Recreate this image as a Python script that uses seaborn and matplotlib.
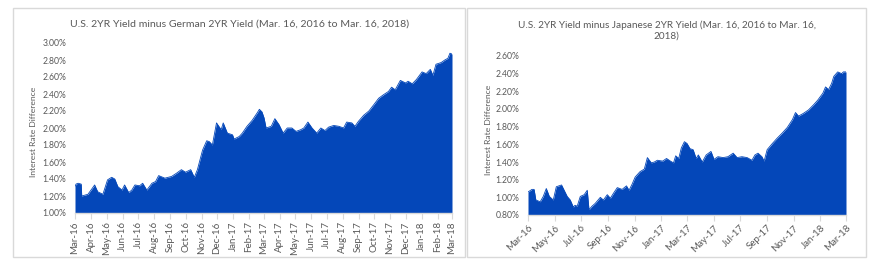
import matplotlib
matplotlib.use("Agg")
import matplotlib.pyplot as plt
from matplotlib.patches import Rectangle
from matplotlib.ticker import FuncFormatter, FixedLocator
import seaborn as sns
import pandas as pd

# ---- data: U.S. 2YR minus German 2YR (percent) ----
de_dates = ["2016-03-16", "2016-03-18", "2016-03-22", "2016-03-28", "2016-03-29", "2016-04-04",
            "2016-04-10", "2016-04-16", "2016-04-23", "2016-04-29", "2016-05-09", "2016-05-18",
            "2016-05-26", "2016-06-01", "2016-06-07", "2016-06-15", "2016-06-20", "2016-06-28",
            "2016-07-04", "2016-07-10", "2016-07-19", "2016-07-25", "2016-08-02", "2016-08-12",
            "2016-08-19", "2016-08-25", "2016-09-06", "2016-09-19", "2016-09-29", "2016-10-08",
            "2016-10-16", "2016-10-26", "2016-11-02", "2016-11-08", "2016-11-18", "2016-11-26",
            "2016-12-01", "2016-12-07", "2016-12-15", "2016-12-24", "2016-12-28", "2017-01-05",
            "2017-01-15", "2017-01-18", "2017-01-28", "2017-02-03", "2017-02-12", "2017-02-22",
            "2017-03-04", "2017-03-08", "2017-03-13", "2017-03-17", "2017-03-21", "2017-03-31",
            "2017-04-07", "2017-04-15", "2017-04-23", "2017-05-01", "2017-05-10", "2017-05-18",
            "2017-05-27", "2017-06-02", "2017-06-10", "2017-06-18", "2017-06-27", "2017-07-05",
            "2017-07-13", "2017-07-20", "2017-07-30", "2017-08-09", "2017-08-18", "2017-08-24",
            "2017-09-03", "2017-09-09", "2017-09-16", "2017-09-26", "2017-10-06", "2017-10-15",
            "2017-10-25", "2017-11-03", "2017-11-13", "2017-11-19", "2017-11-26", "2017-12-06",
            "2017-12-16", "2017-12-21", "2017-12-29", "2018-01-06", "2018-01-17", "2018-01-25",
            "2018-02-02", "2018-02-07", "2018-02-13", "2018-02-23", "2018-03-02", "2018-03-08",
            "2018-03-12", "2018-03-16"]
de_values = [1.31, 1.34, 1.35, 1.34, 1.20, 1.21,
             1.22, 1.27, 1.33, 1.25, 1.22, 1.39,
             1.42, 1.40, 1.31, 1.27, 1.33, 1.24,
             1.27, 1.33, 1.32, 1.35, 1.27, 1.35,
             1.37, 1.44, 1.41, 1.43, 1.47, 1.51,
             1.48, 1.51, 1.42, 1.51, 1.74, 1.85,
             1.84, 1.80, 2.06, 1.98, 2.06, 1.94,
             1.92, 1.87, 1.90, 1.94, 2.02, 2.09,
             2.18, 2.22, 2.19, 2.12, 2.00, 2.02,
             2.11, 2.04, 1.94, 2.00, 2.00, 1.96,
             1.98, 2.00, 2.07, 2.00, 1.94, 2.00,
             1.97, 2.01, 2.03, 2.02, 2.00, 2.07,
             2.06, 2.02, 2.08, 2.15, 2.20, 2.27,
             2.35, 2.39, 2.43, 2.48, 2.45, 2.56,
             2.53, 2.55, 2.52, 2.57, 2.66, 2.64,
             2.69, 2.62, 2.75, 2.77, 2.80, 2.82,
             2.88, 2.87]

# ---- data: U.S. 2YR minus Japanese 2YR (percent) ----
jp_dates = ["2016-03-16", "2016-03-25", "2016-03-30", "2016-04-03", "2016-04-13", "2016-04-20",
            "2016-04-27", "2016-05-04", "2016-05-13", "2016-05-20", "2016-06-01", "2016-06-05",
            "2016-06-14", "2016-06-21", "2016-06-28", "2016-07-02", "2016-07-07", "2016-07-14",
            "2016-07-23", "2016-07-30", "2016-08-03", "2016-08-10", "2016-08-17", "2016-08-29",
            "2016-09-05", "2016-09-14", "2016-09-21", "2016-09-30", "2016-10-07", "2016-10-18",
            "2016-10-28", "2016-11-03", "2016-11-10", "2016-11-17", "2016-11-28", "2016-12-08",
            "2016-12-15", "2016-12-24", "2016-12-31", "2017-01-07", "2017-01-19", "2017-01-28",
            "2017-02-06", "2017-02-13", "2017-02-18", "2017-02-25", "2017-03-03", "2017-03-10",
            "2017-03-16", "2017-03-23", "2017-03-30", "2017-04-06", "2017-04-11", "2017-04-20",
            "2017-04-29", "2017-05-10", "2017-05-17", "2017-05-26", "2017-06-07", "2017-06-18",
            "2017-06-30", "2017-07-09", "2017-07-20", "2017-08-01", "2017-08-12", "2017-08-19",
            "2017-08-26", "2017-09-04", "2017-09-09", "2017-09-16", "2017-09-28", "2017-10-09",
            "2017-10-21", "2017-11-01", "2017-11-13", "2017-11-20", "2017-11-27", "2017-12-08",
            "2017-12-20", "2018-01-01", "2018-01-10", "2018-01-22", "2018-01-28", "2018-02-04",
            "2018-02-11", "2018-02-16", "2018-02-25", "2018-03-06", "2018-03-10", "2018-03-16"]
jp_values = [1.06, 1.09, 1.09, 0.97, 0.95, 1.01,
             1.10, 1.01, 0.97, 1.12, 1.14, 1.10,
             1.01, 0.97, 0.89, 0.91, 0.90, 1.01,
             1.03, 1.08, 0.86, 0.90, 0.93, 1.00,
             0.97, 1.03, 0.99, 1.06, 1.11, 1.09,
             1.13, 1.08, 1.15, 1.23, 1.29, 1.32,
             1.45, 1.39, 1.40, 1.42, 1.41, 1.44,
             1.41, 1.39, 1.47, 1.44, 1.56, 1.63,
             1.61, 1.55, 1.54, 1.44, 1.48, 1.40,
             1.48, 1.52, 1.43, 1.46, 1.45, 1.46,
             1.50, 1.45, 1.46, 1.45, 1.42, 1.48,
             1.50, 1.46, 1.41, 1.54, 1.61, 1.67,
             1.73, 1.79, 1.88, 1.96, 1.92, 1.95,
             1.99, 2.05, 2.10, 2.18, 2.25, 2.22,
             2.29, 2.37, 2.42, 2.40, 2.42, 2.42]

left_title = "U.S. 2YR Yield minus German 2YR Yield (Mar. 16, 2016 to Mar. 16, 2018)"
right_title = "U.S. 2YR Yield minus Japanese 2YR Yield (Mar. 16, 2016 to Mar. 16,\n2018)"
ylabel = "Interest Rate Difference"
left_yticks = [1.00, 1.20, 1.40, 1.60, 1.80, 2.00, 2.20, 2.40, 2.60, 2.80, 3.00]
right_yticks = [0.80, 1.00, 1.20, 1.40, 1.60, 1.80, 2.00, 2.20, 2.40, 2.60]

BLUE = "#0447B9"
GREY = "#595959"
AXGREY = "#d9d9d9"

sns.set_theme(style="white")
plt.rcParams["font.family"] = ["Lato", "DejaVu Sans"]

W, H = 880, 273
fig = plt.figure(figsize=(W / 100, H / 100), dpi=100)
renderer = fig.canvas.get_renderer()


def fit(txt, target_px, vertical=False):
    """Scale a text's font size so its rendered extent matches target_px."""
    bb = txt.get_window_extent(renderer=renderer)
    cur = bb.height if vertical else bb.width
    txt.set_fontsize(txt.get_fontsize() * target_px / cur)


# panel borders
for (x0, x1) in [(13, 465), (467, 866)]:
    fig.patches.append(Rectangle((x0 / W, 1 - 257 / H), (x1 - x0) / W, (257 - 8) / H,
                                 transform=fig.transFigure, fill=False,
                                 edgecolor=AXGREY, linewidth=1.0))


def make_panel(rect, dates, values, yticks, step, rot, title, title_w, title_x, title_y,
               ylabel_x, ylabel_y):
    ax = fig.add_axes(rect)
    df = pd.DataFrame({"date": pd.to_datetime(dates), "value": values})
    base = yticks[0]
    ax.fill_between(df["date"], df["value"], base, color=BLUE, linewidth=0)
    sns.lineplot(data=df, x="date", y="value", ax=ax, color=BLUE, linewidth=0.6)
    ax.set_ylim(yticks[0], yticks[-1])
    ax.set_xlim(pd.Timestamp("2016-03-16"), pd.Timestamp("2018-03-16"))
    ax.yaxis.set_major_locator(FixedLocator(yticks))
    ax.yaxis.set_major_formatter(FuncFormatter(lambda v, p: f"{v:.2f}%"))
    xt = pd.date_range("2016-03-16", "2018-03-16", freq=pd.DateOffset(months=step))
    ax.set_xticks(xt)
    ax.set_xticklabels([d.strftime("%b-%y") for d in xt])
    for s in ["top", "right", "left"]:
        ax.spines[s].set_visible(False)
    ax.spines["bottom"].set_color(AXGREY)
    ax.spines["bottom"].set_linewidth(1.0)
    ax.tick_params(axis="x", which="major", length=4, width=0.8, color=AXGREY,
                   labelsize=7, labelcolor=GREY, pad=2, bottom=True)
    ax.tick_params(axis="y", length=0, labelsize=7, labelcolor=GREY, pad=6.3)
    if rot == 90:
        plt.setp(ax.get_xticklabels(), rotation=90, ha="center", va="top")
    else:
        plt.setp(ax.get_xticklabels(), rotation=45, ha="right", va="top",
                 rotation_mode="anchor")
    ax.set_xlabel("")
    ax.set_ylabel("")
    ax.grid(False)

    # match tick label sizes to the reference
    fig.canvas.draw()
    ylab = [t for t in ax.get_yticklabels() if t.get_text()]
    bb = ylab[0].get_window_extent(renderer=renderer)
    ax.tick_params(axis="y", labelsize=7 * 23.5 / bb.width)
    xlab = [t for t in ax.get_xticklabels() if t.get_text()]
    xlab[0].set_rotation(90)
    bbx = xlab[0].get_window_extent(renderer=renderer)
    xsize = 7 * 32.5 / bbx.height
    xlab[0].set_rotation(rot)
    ax.tick_params(axis="x", labelsize=xsize)

    yl = fig.text(ylabel_x / W, 1 - ylabel_y / H, ylabel, rotation=90,
                  ha="center", va="center", fontsize=7, color=GREY)
    fit(yl, 90, vertical=True)
    tt = fig.text(title_x / W, 1 - title_y / H, title, ha="center", va="center",
                  fontsize=8.2, color=GREY, linespacing=1.2)
    fit(tt, title_w)
    return ax


make_panel([75 / W, 1 - 213 / H, 377 / W, 170 / H], de_dates, de_values, left_yticks,
           1, 90, left_title, 335, 239.5, 24, 33, 132)
make_panel([528 / W, 1 - 215 / H, 318 / W, 159 / H], jp_dates, jp_values, right_yticks,
           2, 45, right_title, 297, 666.5, 30.5, 488, 130)

fig.savefig("out.png", dpi=100, facecolor="white")
